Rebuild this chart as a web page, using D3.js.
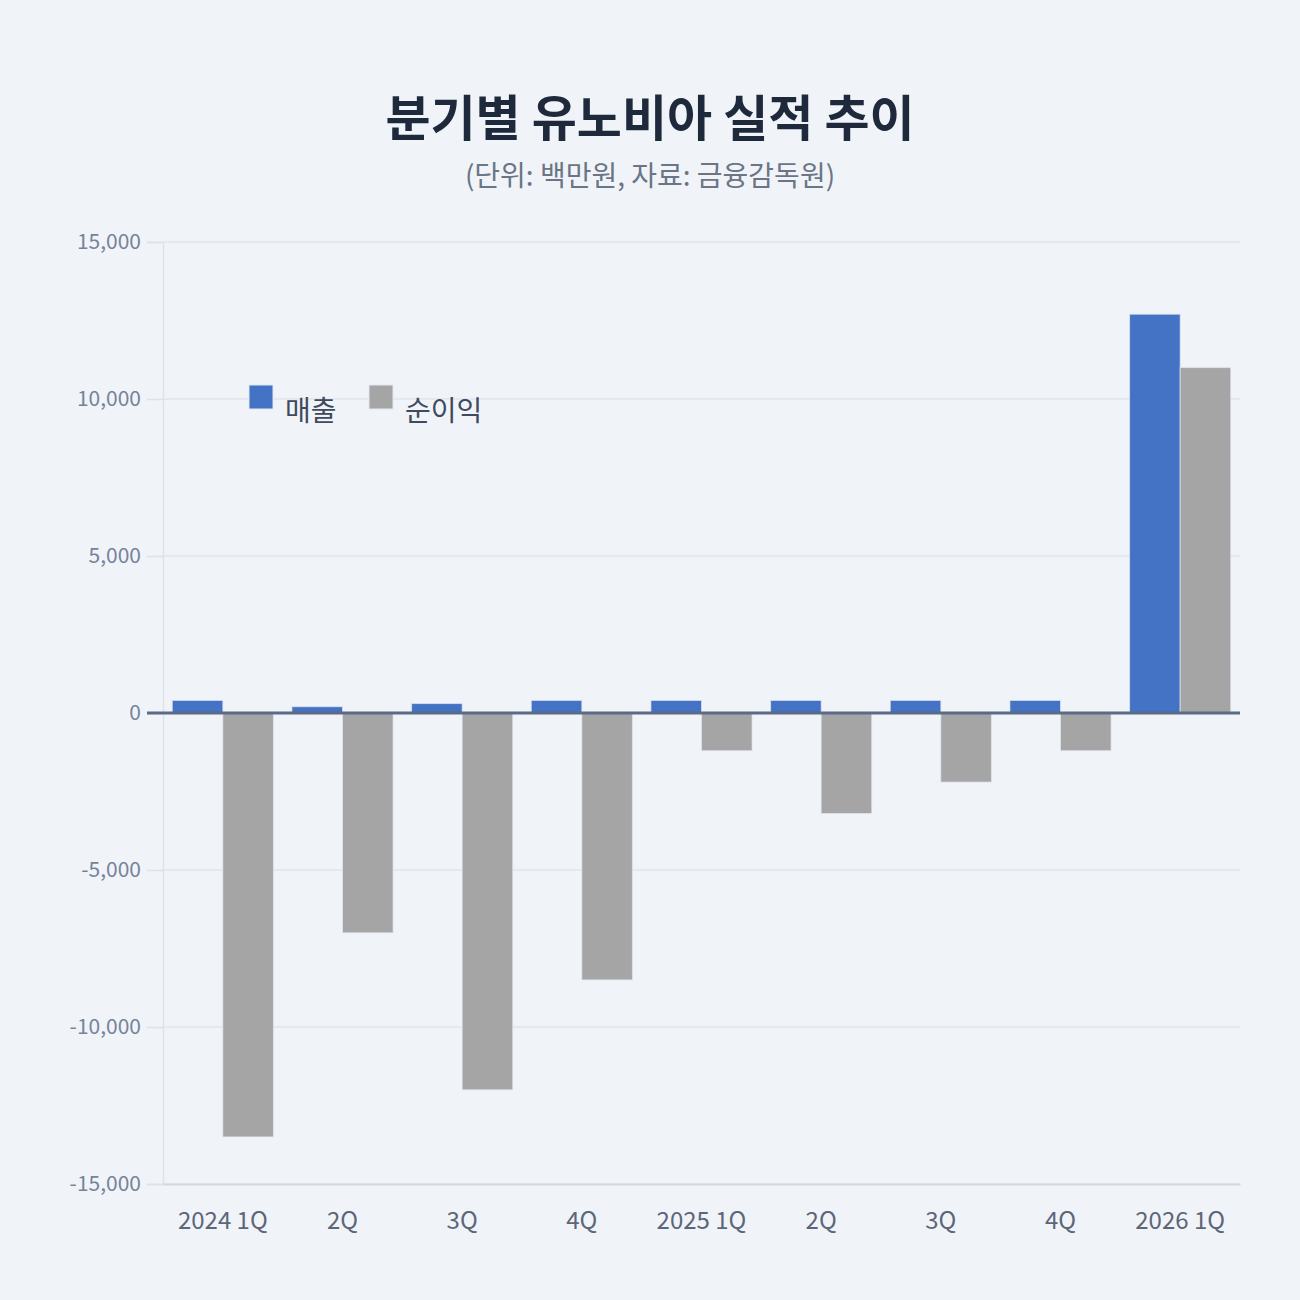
<!DOCTYPE html>
<html>
<head>
<meta charset="utf-8">
<script src="https://cdn.jsdelivr.net/npm/d3@7"></script>
<style>
  body { margin: 0; background: #f0f4f9; font-family: "Noto Sans CJK KR", "Noto Sans", sans-serif; }
</style>
</head>
<body>
<div class="chart"></div>
<script>
const categories = ["2024 1Q", "2Q", "3Q", "4Q", "2025 1Q", "2Q ", "3Q ", "4Q ", "2026 1Q"];
const sales = [400, 200, 300, 400, 400, 400, 400, 400, 12700];
const netIncome = [-13500, -7000, -12000, -8500, -1200, -3200, -2200, -1200, 11000];
const yTicks = [-15000, -10000, -5000, 0, 5000, 10000, 15000];
const seriesNames = ["매출", "순이익"];
const colors = ["#4472c4", "#a5a5a5"];

const W = 1300, H = 1300;
const margin = { top: 242, right: 60, bottom: 116, left: 163 };
const width = W - margin.left - margin.right;
const height = H - margin.top - margin.bottom;

const svg = d3.select(".chart").append("svg")
    .attr("width", W)
    .attr("height", H)
    .style("background", "#f0f4f9");

svg.append("text")
    .attr("x", W / 2).attr("y", 136)
    .attr("text-anchor", "middle")
    .attr("font-size", 49).attr("font-weight", 700)
    .attr("fill", "#1e293b")
    .text("분기별 유노비아 실적 추이");

svg.append("text")
    .attr("x", W / 2).attr("y", 186)
    .attr("text-anchor", "middle")
    .attr("font-size", 28)
    .attr("fill", "#6b7585")
    .text("(단위: 백만원, 자료: 금융감독원)");

const g = svg.append("g").attr("transform", "translate(" + margin.left + "," + margin.top + ")");

const x = d3.scaleBand().domain(categories).range([0, width]).paddingInner(0.155).paddingOuter(0.0775);
const y = d3.scaleLinear().domain([-15000, 15000]).range([height, 0]);

// grid
g.selectAll("line.grid").data(yTicks).enter().append("line")
    .attr("class", "grid")
    .attr("x1", 0).attr("x2", width)
    .attr("y1", d => y(d)).attr("y2", d => y(d))
    .attr("stroke", "#e1e6ee").attr("stroke-width", 1.5);

// y axis
const yAxis = d3.axisLeft(y).tickValues(yTicks).tickSize(16).tickPadding(6)
    .tickFormat(d => d3.format(",")(d).replace("−", "-"));
const yg = g.append("g").call(yAxis);
yg.select(".domain").attr("stroke", "#dde2ea").attr("stroke-width", 1.5);
yg.selectAll(".tick line").attr("stroke", "#dde2ea").attr("stroke-width", 1.5);
yg.selectAll(".tick text").attr("font-size", 21).attr("fill", "#778399")
    .attr("font-family", "'Noto Sans CJK KR', 'Noto Sans', sans-serif");

// bars
const x1 = d3.scaleBand().domain([0, 1]).range([0, x.bandwidth()]);
const rows = categories.map((c, i) => ({ c, vals: [sales[i], netIncome[i]] }));
const grp = g.selectAll("g.grp").data(rows).enter().append("g")
    .attr("transform", d => "translate(" + x(d.c) + ",0)");
grp.selectAll("rect").data(d => d.vals.map((v, k) => ({ v, k }))).enter().append("rect")
    .attr("x", d => x1(d.k))
    .attr("width", x1.bandwidth())
    .attr("y", d => y(Math.max(0, d.v)))
    .attr("height", d => Math.abs(y(d.v) - y(0)))
    .attr("fill", d => colors[d.k])
    .attr("stroke", "#dfe7f2").attr("stroke-width", 1).attr("stroke-opacity", 0.7);

// x axis bottom
const xAxis = d3.axisBottom(x).tickSize(0).tickPadding(28);
const xg = g.append("g").attr("transform", "translate(0," + height + ")").call(xAxis);
xg.select(".domain").attr("stroke", "#d3d8e0").attr("stroke-width", 2);
xg.selectAll(".tick text").attr("font-size", 24).attr("fill", "#5c6678")
    .attr("font-family", "'Noto Sans CJK KR', 'Noto Sans', sans-serif")
    .text(d => d.trim());

// zero line
g.append("line")
    .attr("x1", -16).attr("x2", width)
    .attr("y1", y(0)).attr("y2", y(0))
    .attr("stroke", "#5b6a85").attr("stroke-width", 3);

// legend
const legend = svg.append("g").attr("transform", "translate(249,385)");
const li = legend.selectAll("g").data(seriesNames).enter().append("g")
    .attr("transform", (d, i) => "translate(" + (i * 120) + ",0)");
li.append("rect").attr("width", 24).attr("height", 24)
    .attr("fill", (d, i) => colors[i])
    .attr("stroke", "#dfe7f2").attr("stroke-width", 1);
li.append("text").attr("x", 36).attr("y", 36)
    .attr("font-size", 28).attr("fill", "#3f4a5c")
    .text(d => d);
</script>
</body>
</html>
